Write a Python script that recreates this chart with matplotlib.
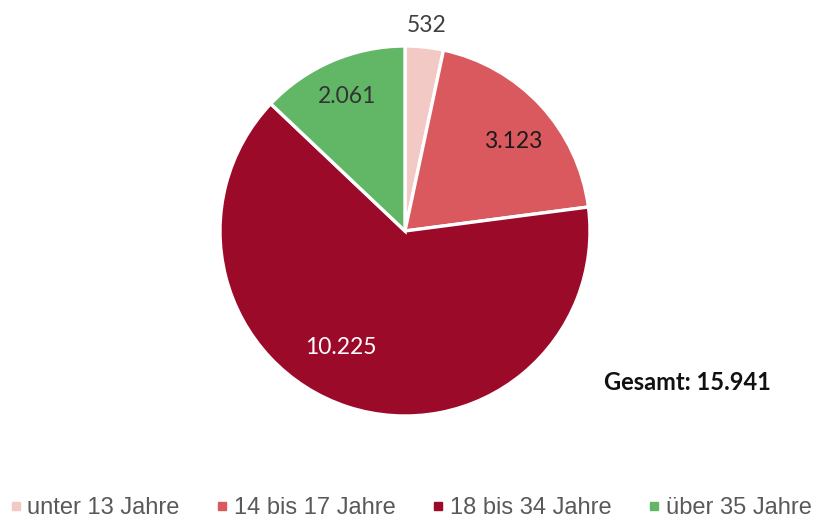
import matplotlib
matplotlib.use("Agg")
import matplotlib.pyplot as plt
from matplotlib.lines import Line2D
import numpy as np

categories = ["unter 13 Jahre", "14 bis 17 Jahre", "18 bis 34 Jahre", "über 35 Jahre"]
values = [532, 3123, 10225, 2061]
value_labels = ["532", "3.123", "10.225", "2.061"]
total_label = "Gesamt: 15.941"
colors = ["#F2C9C5", "#D9595F", "#9C0A2A", "#62B766"]
label_colors = ["#404040", "#1a1a1a", "#ffffff", "#333333"]

W, H = 813, 519
fig = plt.figure(figsize=(W / 100, H / 100), dpi=100)
cx, cy, r = 405, 231, 185
ax = fig.add_axes([(cx - r) / W, (H - cy - r) / H, 2 * r / W, 2 * r / H])
wedges, _ = ax.pie(values, colors=colors, startangle=90, counterclock=False,
                   radius=1, wedgeprops=dict(edgecolor="white", linewidth=2.4))
ax.set_xlim(-1, 1)
ax.set_ylim(-1, 1)
ax.set_aspect("equal")
ax.axis("off")

# label placement (distance, angular offset in deg) per slice
dists = [1.115, 0.76, 0.72, 0.79]
offs = [0, -3, -11, 0]
cum = np.cumsum([0] + values[:-1])
tot = sum(values)
for i, v in enumerate(values):
    mid = 90 - (cum[i] + v / 2) / tot * 360 + offs[i]
    a = np.deg2rad(mid)
    ax.text(dists[i] * np.cos(a), dists[i] * np.sin(a), value_labels[i],
            ha="center", va="center", fontsize=16.5, family="Lato",
            color=label_colors[i], clip_on=False)

fig.text(687 / W, 1 - 383 / H, total_label, ha="center", va="center",
         fontsize=17, family="Lato", fontweight="bold", color="#111111")

handles = [Line2D([], [], marker="s", linestyle="none", markersize=5.5,
                  markerfacecolor=c, markeredgecolor=c) for c in colors]
leg = fig.legend(handles, categories, loc="center", ncol=4,
                 bbox_to_anchor=(0.5 + 5 / W, 1 - 508 / H), frameon=False,
                 handlelength=0.4, handletextpad=0.3, columnspacing=1.6,
                 borderpad=0, borderaxespad=0,
                 prop=dict(family="Liberation Sans", size=17))
for t in leg.get_texts():
    t.set_color("#595959")

fig.savefig("out.png", dpi=100)
